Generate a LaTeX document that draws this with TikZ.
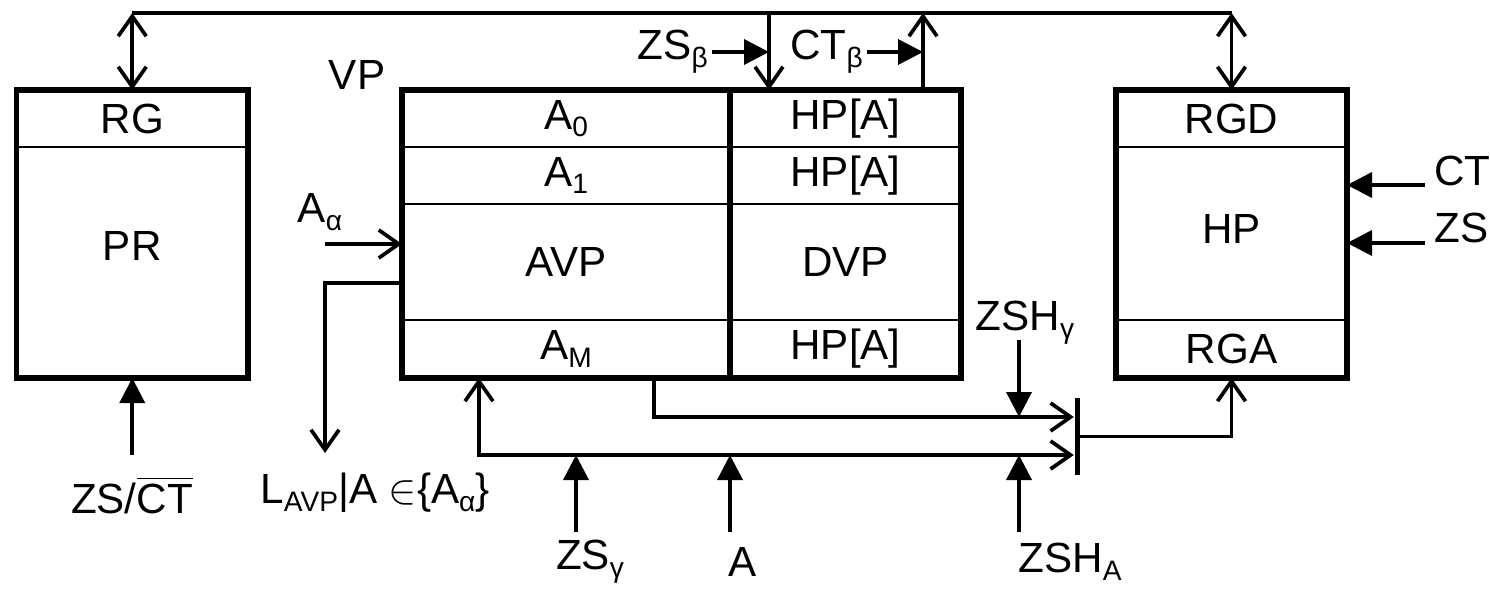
\documentclass[tikz,border=0pt]{standalone}
\usepackage{fontspec}
\setmainfont{Liberation Sans}
\usetikzlibrary{arrows.meta, positioning, calc}
\newcommand{\lo}[1]{\raisebox{-2.2pt}{\fontsize{8}{9}\selectfont #1}}

\begin{document}
\begin{tikzpicture}[
  cell/.style={draw, line width=0.55pt, inner sep=0pt, outer sep=0pt,
    font=\fontsize{12}{14}\selectfont},
  frame/.style={draw, line width=1.7pt},
  wire/.style={line width=1.05pt},
  oarr/.style={wire, -{Straight Barb[length=2mm, width=2.8mm]}},
  barr/.style={wire, {Straight Barb[length=2mm, width=2.8mm]}-{Straight Barb[length=2mm, width=2.8mm]}},
  farr/.style={wire, -{Triangle[length=2.5mm, width=2.5mm]}},
  lbl/.style={font=\fontsize{12}{14}\selectfont, inner sep=1pt},
  node distance=0pt
]
\useasboundingbox (0,0) rectangle (14.9,-5.92);

% PR block
\node[cell, minimum width=2.315cm, minimum height=0.57cm, anchor=north west] (rg) at (0.165,-0.90) {RG};
\node[cell, minimum width=2.315cm, minimum height=2.31cm, text depth=0.34cm, below=of rg] (pr) {PR};
\draw[frame] (rg.north west) rectangle (pr.south east);

% VP block
\node[lbl] (vp) at (3.57,-0.75) {VP};
\node[cell, minimum width=3.28cm, minimum height=0.57cm, anchor=north west] (a0) at (4.02,-0.90) {A\lo{0}};
\node[cell, minimum width=3.28cm, minimum height=0.57cm, below=of a0] (a1) {A\lo{1}};
\node[cell, minimum width=3.28cm, minimum height=1.16cm, below=of a1] (avp) {AVP};
\node[cell, minimum width=3.28cm, minimum height=0.58cm, below=of avp] (am) {A\lo{M}};
\node[cell, minimum width=2.31cm, minimum height=0.57cm, right=of a0] (h0) {HP[A]};
\node[cell, minimum width=2.31cm, minimum height=0.57cm, right=of a1] (h1) {HP[A]};
\node[cell, minimum width=2.31cm, minimum height=1.16cm, right=of avp] (dvp) {DVP};
\node[cell, minimum width=2.31cm, minimum height=0.58cm, right=of am] (hm) {HP[A]};
\draw[frame] (a0.north west) rectangle (hm.south east);
\draw[frame] (a0.north east) -- (am.south east);

% HP block
\node[cell, minimum width=2.31cm, minimum height=0.57cm, anchor=north west] (rgd) at (11.16,-0.90) {RGD};
\node[cell, minimum width=2.31cm, minimum height=1.73cm, text depth=0.1cm, below=of rgd] (hp) {HP};
\node[cell, minimum width=2.31cm, minimum height=0.58cm, below=of hp] (rga) {RGA};
\draw[frame] (rgd.north west) rectangle (rga.south east);

% common bus
\coordinate (busW) at ($(rg.north)+(0,0.77)$);
\coordinate (busE) at (busW -| rgd.north);
\draw[wire] (busW) -- (busE);
\draw[barr] (busW) -- (rg.north);
\draw[barr] (busE) -- (rgd.north);

% ZS beta / CT beta
\coordinate (zsbx) at ($(h0.north west)+(0.39,0)$);
\draw[oarr] (zsbx |- busW) -- (zsbx);
\node[lbl, anchor=east] (zsb) at (7.12,-0.52) {ZS\lo{β}};
\draw[farr] (zsb.east) -- (zsb.east -| zsbx);
\coordinate (ctbx) at ($(h0.north west)+(1.93,0)$);
\draw[oarr] (ctbx) -- (ctbx |- busW);
\node[lbl, anchor=east] (ctb) at (8.67,-0.52) {CT\lo{β}};
\draw[farr] (ctb.east) -- (ctb.east -| ctbx);

% A alpha in, L_AVP out
\node[lbl] (aal) at (3.20,-2.12) {A\lo{α}};
\coordinate (aas) at (3.25,-2.44);
\draw[oarr] (aas) -- (aas -| avp.west);
\coordinate (lout) at ($(avp.west)+(0,-0.21)$);
\coordinate (lend) at (3.25,-4.53);
\draw[oarr] (lout) -| (lend);
\node[lbl] (lavp) at (3.75,-4.93) {L\lo{AVP}|A $\in$\{A\lo{α}\}};

% PR input
\coordinate (prs) at ($(pr.south)+(0,-0.77)$);
\draw[farr] (prs) -- (pr.south);
\node[lbl] (prl) at (1.32,-4.95) {ZS/$\overline{\mbox{CT}}$};

% gate before RGA
\node[fill=black, inner sep=0pt, minimum width=0.05cm, minimum height=0.77cm] (bar) at (10.77,-4.365) {};
\coordinate (l1) at ($(bar.west)+(0,0.195)$);
\coordinate (l2) at ($(bar.west)+(0,-0.185)$);
\coordinate (amout) at ($(am.south west)+(2.52,0)$);
\coordinate (amin) at ($(am.south west)+(0.77,0)$);
\draw[oarr] (amout) |- (l1);
\draw[barr] (amin) |- (l2);
\draw[oarr] (bar.east) -| (rga.south);

% control inputs below
\coordinate (zsgs) at (5.76,-5.32);
\draw[farr] (zsgs) -- (zsgs |- l2);
\node[lbl] (zsg) at (5.90,-5.62) {ZS\lo{γ}};
\coordinate (as) at (7.30,-5.32);
\draw[farr] (as) -- (as |- l2);
\node[lbl] (al) at (7.43,-5.62) {A};
\coordinate (zshg) at (10.19,-3.40);
\draw[farr] (zshg) -- (zshg |- l1);
\node[lbl] (zshgl) at (10.25,-3.23) {ZSH\lo{γ}};
\coordinate (zsha) at (10.19,-5.32);
\draw[farr] (zsha) -- (zsha |- l2);
\node[lbl] (zshal) at (10.70,-5.62) {ZSH\lo{A}};

% HP inputs
\coordinate (cts) at (14.25,-1.85);
\draw[farr] (cts) -- (cts -| hp.east);
\node[lbl, anchor=west] (ctl) at (14.30,-1.71) {CT};
\coordinate (zss) at (14.25,-2.43);
\draw[farr] (zss) -- (zss -| hp.east);
\node[lbl, anchor=west] (zsl) at (14.30,-2.28) {ZS};
\end{tikzpicture}
\end{document}
